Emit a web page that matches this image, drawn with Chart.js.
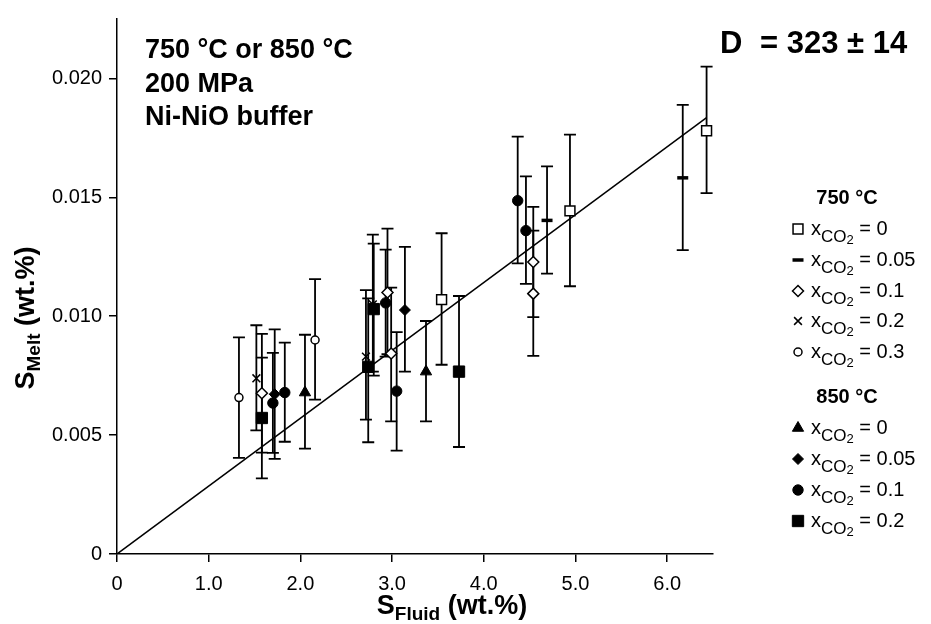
<!DOCTYPE html>
<html>
<head>
<meta charset="utf-8">
<script src="https://cdn.jsdelivr.net/npm/chart.js@4.4.1/dist/chart.umd.min.js"></script>
<style>
  html, body { margin: 0; padding: 0; background: #fff; }
  #wrap { width: 931px; height: 624px; position: relative; }
</style>
</head>
<body>
<div id="wrap"><canvas id="c" width="931" height="624"></canvas></div>
<script>
// ---------- tick labels ----------
const xTickValues = [0, 1, 2, 3, 4, 5, 6];
const xTickLabels = ['0', '1.0', '2.0', '3.0', '4.0', '5.0', '6.0'];
const yTickValues = [0, 0.005, 0.010, 0.015, 0.020];
const yTickLabels = ['0', '0.005', '0.010', '0.015', '0.020'];

// ---------- 750 °C ----------
// xCO2 = 0 (open square)
const a0X  = [3.54, 4.94, 6.43];
const a0Y  = [0.0107, 0.01443, 0.0178];
const a0Hi = [0.01349, 0.01764, 0.0205];
const a0Lo = [0.00796, 0.01126, 0.01518];
// xCO2 = 0.05 (dash)
const a05X  = [4.69, 6.17];
const a05Y  = [0.01403, 0.01582];
const a05Hi = [0.0163, 0.01889];
const a05Lo = [0.01179, 0.01278];
// xCO2 = 0.1 (open diamond)
const a1X  = [1.58, 2.95, 2.99, 4.54, 4.54];
const a1Y  = [0.00676, 0.0110, 0.00843, 0.01228, 0.01095];
const a1Hi = [0.00926, 0.01368, 0.0112, 0.0146, 0.0136];
const a1Lo = [0.00426, 0.0084, 0.00558, 0.00996, 0.00833];
// xCO2 = 0.2 (cross)
const a2X  = [1.52, 2.715, 2.79];
const a2Y  = [0.00739, 0.0083, 0.0105];
const a2Hi = [0.00962, 0.0111, 0.01343];
const a2Lo = [0.0052, 0.00565, 0.00767];
// xCO2 = 0.3 (open circle)
const a3X  = [1.33, 2.16];
const a3Y  = [0.00658, 0.0090];
const a3Hi = [0.00911, 0.01156];
const a3Lo = [0.00404, 0.00649];

// ---------- 850 °C ----------
// xCO2 = 0 (filled triangle)
const b0X  = [2.05, 3.37];
const b0Y  = [0.00679, 0.00767];
const b0Hi = [0.00922, 0.0098];
const b0Lo = [0.00443, 0.00558];
// xCO2 = 0.05 (filled diamond)
const b05X  = [1.72, 3.14];
const b05Y  = [0.00672, 0.01026];
const b05Hi = [0.00945, 0.01292];
const b05Lo = [0.0040, 0.00767];
// xCO2 = 0.1 (filled circle)
const b1X  = [1.70, 1.83, 2.93, 3.05, 4.37, 4.46];
const b1Y  = [0.00635, 0.00679, 0.01056, 0.00685, 0.01486, 0.0136];
const b1Hi = [0.00846, 0.00889, 0.0128, 0.00933, 0.01755, 0.01588];
const b1Lo = [0.00425, 0.00472, 0.0083, 0.00435, 0.01222, 0.01136];
// xCO2 = 0.2 (filled square)
const b2X  = [1.58, 2.74, 2.80, 3.73];
const b2Y  = [0.00572, 0.00787, 0.0103, 0.00767];
const b2Hi = [0.00826, 0.01075, 0.01305, 0.01085];
const b2Lo = [0.00318, 0.0047, 0.0075, 0.0045];

// ---------- regression line ----------
const lineX = [0, 6.43];
const lineY = [0, 0.01835];

// ---------- legend labels ----------
const legend750Title = '750 °C';
const legend850Title = '850 °C';
const legend750Vals = ['0', '0.05', '0.1', '0.2', '0.3'];
const legend850Vals = ['0', '0.05', '0.1', '0.2'];

const pts = (xs, ys) => xs.map((x, i) => ({ x: x, y: ys[i] }));

const styles = {
  a0:  { pointStyle: 'rect',     radius: 7,   borderWidth: 1.5, bg: '#fff' },
  a05: { pointStyle: 'line',     radius: 5.5, borderWidth: 3.5, bg: '#000' },
  a1:  { pointStyle: 'rectRot',  radius: 5.5, borderWidth: 1.5, bg: '#fff' },
  a2:  { pointStyle: 'crossRot', radius: 5.5, borderWidth: 1.5, bg: '#000' },
  a3:  { pointStyle: 'circle',   radius: 4,   borderWidth: 1.5, bg: '#fff' },
  b0:  { pointStyle: 'triangle', radius: 6.5, borderWidth: 1,   bg: '#000' },
  b05: { pointStyle: 'rectRot',  radius: 5.5, borderWidth: 1,   bg: '#000' },
  b1:  { pointStyle: 'circle',   radius: 5.2, borderWidth: 1,   bg: '#000' },
  b2:  { pointStyle: 'rect',     radius: 8,   borderWidth: 1,   bg: '#000' }
};

function ds(key, xs, ys, hi, lo) {
  const s = styles[key];
  return {
    label: key,
    data: pts(xs, ys),
    errHi: hi, errLo: lo,
    pointStyle: s.pointStyle,
    pointRadius: s.radius,
    pointBorderWidth: s.borderWidth,
    pointBackgroundColor: s.bg,
    pointBorderColor: '#000',
    showLine: false
  };
}

const datasets = [
  ds('a0', a0X, a0Y, a0Hi, a0Lo),
  ds('a05', a05X, a05Y, a05Hi, a05Lo),
  ds('a1', a1X, a1Y, a1Hi, a1Lo),
  ds('a2', a2X, a2Y, a2Hi, a2Lo),
  ds('a3', a3X, a3Y, a3Hi, a3Lo),
  ds('b0', b0X, b0Y, b0Hi, b0Lo),
  ds('b05', b05X, b05Y, b05Hi, b05Lo),
  ds('b1', b1X, b1Y, b1Hi, b1Lo),
  ds('b2', b2X, b2Y, b2Hi, b2Lo),
  {
    label: 'fit',
    data: pts(lineX, lineY),
    showLine: true,
    borderColor: '#000',
    borderWidth: 1.5,
    pointRadius: 0,
    fill: false
  }
];

const FONT = '"Liberation Sans", Arial, sans-serif';

const errorBars = {
  id: 'errorBars',
  beforeDatasetsDraw(chart) {
    const ctx = chart.ctx, xs = chart.scales.x, ys = chart.scales.y;
    ctx.save();
    ctx.strokeStyle = '#000';
    ctx.lineWidth = 1.8;
    chart.data.datasets.forEach(d => {
      if (!d.errHi) return;
      d.data.forEach((p, i) => {
        const px = xs.getPixelForValue(p.x);
        const hi = ys.getPixelForValue(d.errHi[i]);
        const lo = ys.getPixelForValue(d.errLo[i]);
        ctx.beginPath();
        ctx.moveTo(px, hi); ctx.lineTo(px, lo);
        ctx.moveTo(px - 6, hi); ctx.lineTo(px + 6, hi);
        ctx.moveTo(px - 6, lo); ctx.lineTo(px + 6, lo);
        ctx.stroke();
      });
    });
    ctx.restore();
  }
};

function drawMarker(ctx, key, x, y) {
  const s = styles[key];
  ctx.save();
  ctx.fillStyle = s.bg;
  ctx.strokeStyle = '#000';
  ctx.lineWidth = s.borderWidth;
  Chart.helpers.drawPoint(ctx, { pointStyle: s.pointStyle, radius: s.radius, borderWidth: s.borderWidth, rotation: 0 }, x, y);
  ctx.restore();
}

function drawXco2(ctx, x, baseline, val) {
  ctx.font = '20px ' + FONT;
  ctx.fillText('x', x, baseline);
  let cx = x + ctx.measureText('x').width;
  ctx.font = '17px ' + FONT;
  ctx.fillText('CO', cx, baseline + 7);
  cx += ctx.measureText('CO').width;
  ctx.font = '13px ' + FONT;
  ctx.fillText('2', cx, baseline + 9);
  cx += ctx.measureText('2').width;
  ctx.font = '20px ' + FONT;
  ctx.fillText(' = ' + val, cx, baseline);
}

// draws "S" + subscript + " (wt.%)" starting at (sx, by) in current transform
function drawAxisTitle(ctx, cx, by, sub) {
  const big = 'bold 27px ' + FONT, small = 'bold 19px ' + FONT;
  ctx.font = big;
  const w1 = ctx.measureText('S').width, w3 = ctx.measureText(' (wt.%)').width;
  ctx.font = small;
  const w2 = ctx.measureText(sub).width;
  const sx = cx - (w1 + w2 + w3) / 2;
  ctx.font = big;
  ctx.fillText('S', sx, by);
  ctx.font = small;
  ctx.fillText(sub, sx + w1, by + 6);
  ctx.font = big;
  ctx.fillText(' (wt.%)', sx + w1 + w2, by);
}

const annotations = {
  id: 'annotations',
  afterDraw(chart) {
    const ctx = chart.ctx;
    ctx.save();
    ctx.fillStyle = '#000';
    ctx.textBaseline = 'alphabetic';
    ctx.textAlign = 'left';

    // conditions text
    ctx.font = 'bold 27px ' + FONT;
    ctx.fillText('750 °C or 850 °C', 145, 58);
    ctx.fillText('200 MPa', 145, 92);
    ctx.fillText('Ni-NiO buffer', 145, 125);

    // partition coefficient
    ctx.font = 'bold 31px ' + FONT;
    ctx.fillText('D', 720, 53);
    ctx.fillText('= 323 ± 14', 760, 53);

    // legend
    ctx.font = 'bold 20px ' + FONT;
    ctx.textAlign = 'center';
    ctx.fillText(legend750Title, 847, 204);
    ctx.fillText(legend850Title, 847, 403);
    ctx.textAlign = 'left';
    const keys750 = ['a0', 'a05', 'a1', 'a2', 'a3'];
    const rows750 = [229, 260, 291, 321, 352];
    keys750.forEach((k, i) => {
      drawMarker(ctx, k, 798, rows750[i]);
      ctx.fillStyle = '#000';
      drawXco2(ctx, 811, rows750[i] + 6, legend750Vals[i]);
    });
    const keys850 = ['b0', 'b05', 'b1', 'b2'];
    const rows850 = [428, 459, 490, 521];
    keys850.forEach((k, i) => {
      drawMarker(ctx, k, 798, rows850[i]);
      ctx.fillStyle = '#000';
      drawXco2(ctx, 811, rows850[i] + 6, legend850Vals[i]);
    });

    // x axis title
    drawAxisTitle(ctx, 452, 614, 'Fluid');

    // y axis title (rotated)
    ctx.translate(34, 318);
    ctx.rotate(-Math.PI / 2);
    drawAxisTitle(ctx, 0, 0, 'Melt');
    ctx.restore();
  }
};

new Chart(document.getElementById('c'), {
  type: 'scatter',
  data: { datasets: datasets },
  options: {
    responsive: false,
    animation: false,
    devicePixelRatio: 1,
    layout: { padding: { top: 14, right: 218, bottom: 0, left: 0 } },
    plugins: { legend: { display: false }, tooltip: { enabled: false }, title: { display: false } },
    scales: {
      x: {
        type: 'linear', min: 0, max: 6.5,
        afterBuildTicks: s => { s.ticks = xTickValues.map(v => ({ value: v })); },
        afterFit: s => { s.height = 70; },
        ticks: {
          callback: v => xTickLabels[xTickValues.indexOf(v)],
          font: { family: '"Liberation Sans Narrow", "Liberation Sans", Arial', size: 20 },
          color: '#000', padding: 10, maxRotation: 0, autoSkip: false
        },
        grid: { display: true, drawOnChartArea: false, drawTicks: true, tickLength: 8, color: '#000', lineWidth: 1.5 },
        border: { display: true, color: '#000', width: 1.5 }
      },
      y: {
        type: 'linear', min: 0, max: 0.0225,
        afterBuildTicks: s => { s.ticks = yTickValues.map(v => ({ value: v })); },
        afterFit: s => { s.width = 117; },
        ticks: {
          callback: v => yTickLabels[yTickValues.findIndex(t => Math.abs(t - v) < 1e-9)],
          font: { family: FONT, size: 20 },
          color: '#000', padding: 7, autoSkip: false
        },
        grid: { display: true, drawOnChartArea: false, drawTicks: true, tickLength: 8, color: '#000', lineWidth: 1.5 },
        border: { display: true, color: '#000', width: 1.5 }
      }
    }
  },
  plugins: [errorBars, annotations]
});
</script>
</body>
</html>
